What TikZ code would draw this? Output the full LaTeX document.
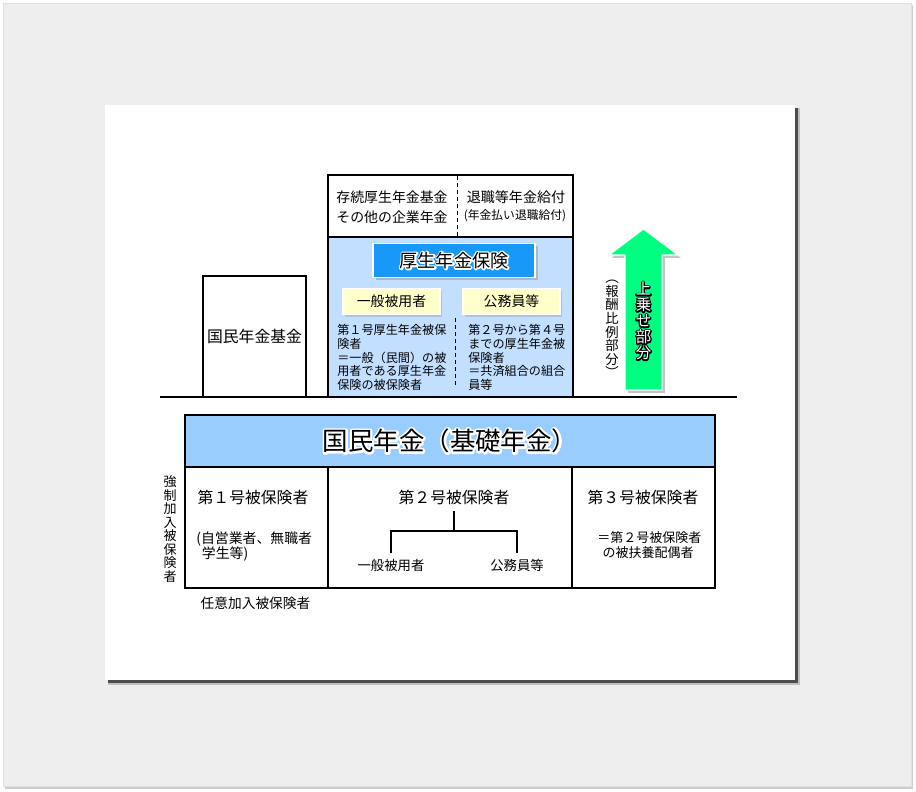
\documentclass[tikz,border=0pt]{standalone}
\usepackage{fontspec}
\setmainfont{Noto Sans CJK JP}
\usetikzlibrary{shadows}
\definecolor{bgGray}{HTML}{EEEEEE}
\definecolor{koseiBlue}{HTML}{C3DFFF}
\definecolor{titleBlue}{HTML}{1899F8}
\definecolor{tagYellow}{HTML}{FFFFCC}
\definecolor{kisoBlue}{HTML}{99CCFF}
\definecolor{upGreen}{HTML}{00FF80}
\newcommand\fs[2]{\fontsize{#1}{#2}\selectfont}
% stroked copy of the text under the text itself: #1 stroke rgb, #2 stroke width, #3 text
\newcommand\halo[3]{\rlap{\special{pdf:literal direct #2 w 1 j 1 Tr #1 RG}#3\special{pdf:literal direct 0 Tr 0 0 0 RG}}#3}
\def\pxu{0.02cm}

\begin{document}
\begin{tikzpicture}[x=0.02cm, y=-0.02cm,
  cellbox/.style={draw=black, line width=0.6pt, inner sep=0pt},
  tagbox/.style={fill=tagYellow, draw=white, line width=0.8pt, inner sep=0pt,
    minimum width=97*\pxu, minimum height=26*\pxu,
    drop shadow={shadow xshift=1.4pt, shadow yshift=-1.4pt, opacity=0.3}},
  tate/.style={align=center, inner sep=0pt}]
  \useasboundingbox (0,0) rectangle (916,791);

  % background frame and white sheet
  \fill[black!20] (5,5) rectangle (913,789);
  \draw[draw=black!12, fill=bgGray] (3,3) rectangle (911,786);
  \fill[black!25] (108,108) rectangle (800,685);
  \fill[black!70] (108,108) rectangle (798,683);
  \fill[white] (105,105) rectangle (795,680);

  % upper part
  \node[cellbox, fill=white, minimum width=103*\pxu, minimum height=121*\pxu, font=\fs{9}{10}] (kikin) at (254.5,336.5) {国民年金基金};

  \node[cellbox, fill=white, minimum width=245*\pxu, minimum height=62*\pxu] (kigyo) at (450.5,206) {};
  \coordinate (kigyoTop) at (457,176);
  \coordinate (kigyoBot) at (457,237);
  \draw[dash pattern=on 2.3pt off 1.7pt, line width=0.5pt] (kigyoTop) -- (kigyoBot);
  \node[tate, font=\fs{7.9}{11.3}] (kigyoL) at (392,207) {存続厚生年金基金\\その他の企業年金};
  \node[font=\fs{8}{10}, inner sep=0pt] (taishoku) at (516,197) {退職等年金給付};
  \node[font=\fs{6.7}{8}, inner sep=0pt] (nenkinbarai) at (515,216) {(年金払い退職給付)};

  \node[cellbox, fill=koseiBlue, minimum width=245*\pxu, minimum height=160*\pxu] (kosei) at (450.5,317) {};
  \node[fill=titleBlue, draw=white, line width=0.8pt, minimum width=162*\pxu, minimum height=34*\pxu,
    drop shadow={shadow xshift=1.6pt, shadow yshift=-1.6pt, opacity=0.4}, font=\fs{10.3}{12}] (koseiTitle) at (454,260.5) {\halo{1 1 1}{1.8}{厚生年金保険}};
  \node[tagbox, font=\fs{7.9}{9}] (ippan) at (391.5,301.5) {一般被用者};
  \node[tagbox, font=\fs{7.9}{9}] (komuin) at (511.5,301.5) {公務員等};
  \coordinate (divTop) at (455,318);
  \coordinate (divBot) at (455,387);
  \draw[dash pattern=on 2.3pt off 1.7pt, line width=0.5pt] (divTop) -- (divBot);
  \node[anchor=north west, align=left, inner sep=0pt, font=\fs{6.9}{7.8}] (ippanNote) at (337,324)
    {第１号厚生年金被保\\険者\\＝一般（民間）の被\\用者である厚生年金\\保険の被保険者};
  \node[anchor=north west, align=left, inner sep=0pt, font=\fs{6.9}{7.8}] (komuinNote) at (468,324)
    {第２号から第４号\\までの厚生年金被\\保険者\\＝共済組合の組合\\員等};

  \coordinate (baseL) at (160,397);
  \coordinate (baseR) at (737,397);
  \draw[line width=0.6pt] (baseL) -- (baseR);

  % green arrow
  \fill[upGreen, draw=white, line width=0.6pt, drop shadow={shadow xshift=1.6pt, shadow yshift=-1.6pt, opacity=0.45}]
    (625,390) -- (625,255) -- (609,255) -- (643.5,229) -- (678,255) -- (662,255) -- (662,390) -- cycle;
  \node[tate, text=white, font=\fs{8.8}{9.1}] (uwanose) at (643.5,321)
    {\halo{0 0 0}{1.5}{上}\\\halo{0 0 0}{1.5}{乗}\\\halo{0 0 0}{1.5}{せ}\\\halo{0 0 0}{1.5}{部}\\\halo{0 0 0}{1.5}{分}};
  \node[tate, font=\fs{7.6}{7.7}] (hoshu) at (612,329) {︵\\報\\酬\\比\\例\\部\\分\\︶};

  % lower part
  \node[cellbox, fill=kisoBlue, minimum width=530*\pxu, minimum height=52*\pxu, font=\fs{14.5}{16}] (kiso) at (450,441) {\halo{1 1 1}{2.4}{国民年金（基礎年金）}};
  \node[cellbox, minimum width=143*\pxu, minimum height=121*\pxu] (first) at (256.5,527.5) {};
  \node[cellbox, minimum width=244*\pxu, minimum height=121*\pxu] (second) at (450,527.5) {};
  \node[cellbox, minimum width=143*\pxu, minimum height=121*\pxu] (third) at (643.5,527.5) {};

  \node[font=\fs{9}{10}] (firstHead) at (253,497) {第１号被保険者};
  \node[font=\fs{9}{10}] (secondHead) at (454,497) {第２号被保険者};
  \node[font=\fs{9}{10}] (thirdHead) at (643,497) {第３号被保険者};
  \node[anchor=west, align=left, inner sep=0pt, font=\fs{7.9}{8.6}] (firstNote) at (196,546.5) {(自営業者、無職者\\\hspace{0.4em}学生等)};
  \node[anchor=west, align=left, inner sep=0pt, font=\fs{7.4}{8.5}] (thirdNote) at (597,545.5) {＝第２号被保険者\\\hspace{0.4em}の被扶養配偶者};

  \coordinate (treeMid) at (454,531);
  \node[font=\fs{7.6}{9}] (ippanLeaf) at (391,565) {一般被用者};
  \node[font=\fs{7.6}{9}] (komuinLeaf) at (517,565) {公務員等};
  \draw[line width=0.6pt] (secondHead) -- (treeMid);
  \draw[line width=0.6pt] (ippanLeaf.north) |- (treeMid) -| (komuinLeaf.north);

  \node[tate, font=\fs{7.4}{7.65}] (kyosei) at (170,529) {強\\制\\加\\入\\被\\保\\険\\者};
  \node[font=\fs{7.8}{9}, inner sep=0pt] (nini) at (255.5,603) {任意加入被保険者};
\end{tikzpicture}
\end{document}
